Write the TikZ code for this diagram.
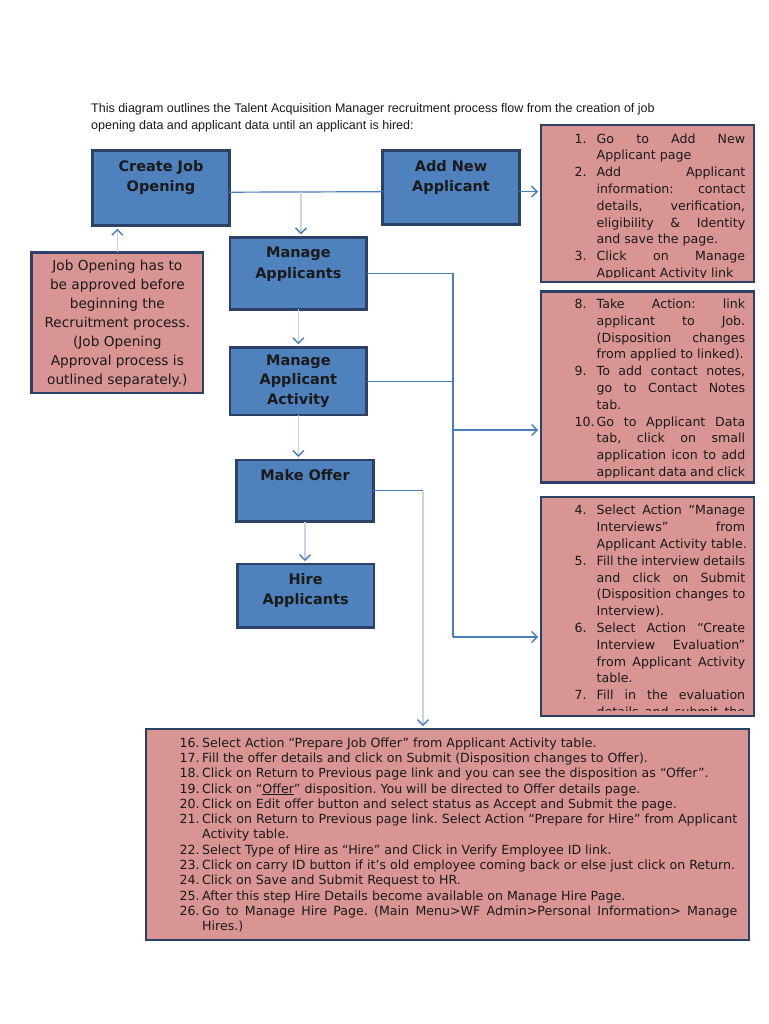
\documentclass[tikz,border=0pt]{standalone}
\usepackage{fontspec}
\setmainfont{DejaVu Sans}
\newfontfamily\capfont{Liberation Sans}
\usetikzlibrary{arrows.meta}
\frenchspacing
\definecolor{boxblue}{HTML}{4F81BD}
\definecolor{boxpink}{HTML}{D99594}
\definecolor{edgec}{HTML}{2B4168}
\definecolor{connc}{HTML}{4A7EBB}
\definecolor{faintc}{HTML}{C9D6E9}
\definecolor{txt}{HTML}{1A1A1A}
\def\NW{22pt}\def\TW{148.5pt}
\def\BNW{22.5pt}\def\BTW{535pt}
\newcommand\RJ[2]{\makebox[\NW][l]{#1}\makebox[\TW][s]{#2}}
\newcommand\RL[2]{\makebox[\NW][l]{#1}\makebox[\TW][l]{#2}}
\newcommand\BJ[2]{\makebox[\BNW][l]{#1}\makebox[\BTW][s]{#2}}
\newcommand\BL[2]{\makebox[\BNW][l]{#1}\makebox[\BTW][l]{#2}}
\tikzset{
  bluebox/.style={draw=edgec, line width=2.5pt, fill=boxblue, inner sep=0pt, outer sep=0pt, anchor=north west},
  pinkfill/.style={fill=boxpink, inner sep=0pt, outer sep=0pt, anchor=north west},
  notebox/.style={pinkfill, draw=edgec, line width=2.5pt},
  border/.style={draw=edgec, line width=2.5pt},
  blabel/.style={anchor=north, inner sep=0pt, align=center, text=txt, font=\bfseries\fontsize{14.5}{20.3}\selectfont},
  rtext/.style={anchor=north west, inner sep=0pt, align=left, text=txt, font=\fontsize{12.6}{16.8}\selectfont},
  btext/.style={anchor=north west, inner sep=0pt, align=left, text=txt, font=\fontsize{12.6}{15.3}\selectfont},
  conn/.style={draw=connc, line width=1.2pt},
  faintline/.style={draw=faintc, line width=1.2pt},
  arr/.style={-{Straight Barb[length=5.5pt,width=11pt,line width=1.4pt,color=connc]}, shorten >=3pt},
}
\begin{document}
\begin{tikzpicture}[x=1pt,y=-1pt]
\useasboundingbox[fill=white] (0,0) rectangle (768,1024);

% caption
\node[anchor=north west, inner sep=0pt, align=left, text=txt, font=\capfont\fontsize{12.5}{17}\selectfont] (cap) at (91,100)
  {\strut This diagram outlines the Talent Acquisition Manager recruitment process flow from the creation of job\\
   opening data and applicant data until an applicant is hired:};

% blue process boxes
\node[bluebox, minimum width=136.6pt, minimum height=75pt] (cjo) at (92.7,150.7) {};
\node[blabel] (cjol) at ([yshift=-6.3pt]cjo.north) {\strut Create Job\\Opening};
\node[bluebox, minimum width=136.6pt, minimum height=74pt] (ana) at (382.7,150.7) {};
\node[blabel] (anal) at ([yshift=-6.3pt]ana.north) {\strut Add New\\Applicant};
\node[bluebox, minimum width=136.7pt, minimum height=72pt] (ma) at (230,237.3) {};
\node[blabel] (mal) at ([yshift=-6pt]ma.north) {\strut Manage\\Applicants};
\node[bluebox, minimum width=136.7pt, minimum height=67.7pt] (maa) at (230,347.3) {};
\node[blabel, font=\bfseries\fontsize{14.5}{19.2}\selectfont] (maal) at ([yshift=-4.8pt]maa.north) {\strut Manage\\Applicant\\Activity};
\node[bluebox, minimum width=136.6pt, minimum height=61.7pt] (mo) at (236.7,460) {};
\node[blabel] (mol) at ([yshift=-6.3pt]mo.north) {\strut Make Offer};
\node[bluebox, minimum width=136.7pt, minimum height=63.3pt] (ha) at (237.3,564) {};
\node[blabel] (hal) at ([yshift=-6pt]ha.north) {\strut Hire\\Applicants};

% note box
\node[notebox, minimum width=171.3pt, minimum height=140.7pt] (note) at (31.7,252.3) {};
\node[anchor=north, inner sep=0pt, align=center, text=txt, font=\fontsize{13.7}{19}\selectfont] (notel) at ([yshift=-5pt]note.north)
  {\strut Job Opening has to\\be approved before\\beginning the\\Recruitment process.\\(Job Opening\\Approval process is\\outlined separately.)};

% right boxes
\node[pinkfill, minimum width=213pt, minimum height=157pt] (rb1) at (541,125) {};
\node[pinkfill, minimum width=213pt, minimum height=191pt] (rb2) at (541,291.5) {};
\node[pinkfill, minimum width=213pt, minimum height=219pt] (rb3) at (541,497) {};
\node[pinkfill, minimum width=603pt, minimum height=211pt] (bb) at (146,729) {};

\begin{scope}
\clip (rb1.north west) rectangle ([yshift=5pt]rb1.south east);
\node[rtext] (t1) at (574.5,131.2) {\strut\RJ{1.}{Go to Add New}\\
\RL{}{Applicant page}\\
\RJ{2.}{Add Applicant}\\
\RJ{}{information: contact}\\
\RJ{}{details, verification,}\\
\RJ{}{eligibility \& Identity}\\
\RL{}{and save the page.}\\
\RJ{3.}{Click on Manage}\\
\RL{}{Applicant Activity link}};
\end{scope}

\begin{scope}
\clip (rb2.north west) rectangle ([yshift=5pt]rb2.south east);
\node[rtext] (t2) at (574.5,296.5) {\strut\RJ{8.}{Take Action: link}\\
\RJ{}{applicant to Job.}\\
\RJ{}{(Disposition changes}\\
\RL{}{from applied to linked).}\\
\RJ{9.}{To add contact notes,}\\
\RJ{}{go to Contact Notes}\\
\RL{}{tab.}\\
\RJ{10.}{Go to Applicant Data}\\
\RJ{}{tab, click on small}\\
\RJ{}{application icon to add}\\
\RJ{}{applicant data and click}};
\end{scope}

\begin{scope}
\clip (rb3.north west) rectangle ([yshift=5.5pt]rb3.south east);
\node[rtext] (t3) at (574.5,502.9) {\strut\RJ{4.}{Select Action “Manage}\\
\RJ{}{Interviews” from}\\
\RL{}{Applicant Activity table.}\\
\RJ{5.}{Fill the interview details}\\
\RJ{}{and click on Submit}\\
\RJ{}{(Disposition changes to}\\
\RL{}{Interview).}\\
\RJ{6.}{Select Action “Create}\\
\RJ{}{Interview Evaluation”}\\
\RJ{}{from Applicant Activity}\\
\RL{}{table.}\\
\RJ{7.}{Fill in the evaluation}\\
\RJ{}{details and submit the}};
\end{scope}

\node[btext] (t4) at (179.5,736.2) {\strut\BL{16.}{Select Action “Prepare Job Offer” from Applicant Activity table.}\\
\BL{17.}{Fill the offer details and click on Submit (Disposition changes to Offer).}\\
\BL{18.}{Click on Return to Previous page link and you can see the disposition as “Offer”.}\\
\BL{19.}{Click on “\underline{Offer}” disposition. You will be directed to Offer details page.}\\
\BL{20.}{Click on Edit offer button and select status as Accept and Submit the page.}\\
\BJ{21.}{Click on Return to Previous page link. Select Action “Prepare for Hire” from Applicant}\\
\BL{}{Activity table.}\\
\BL{22.}{Select Type of Hire as “Hire” and Click in Verify Employee ID link.}\\
\BL{23.}{Click on carry ID button if it’s old employee coming back or else just click on Return.}\\
\BL{24.}{Click on Save and Submit Request to HR.}\\
\BL{25.}{After this step Hire Details become available on Manage Hire Page.}\\
\BJ{26.}{Go to Manage Hire Page. (Main Menu>WF Admin>Personal Information> Manage}\\
\BL{}{Hires.)}};

\draw[border] (rb1.north west) rectangle (rb1.south east);
\draw[border] (rb2.north west) rectangle (rb2.south east);
\draw[border] (rb3.north west) rectangle (rb3.south east);
\draw[border] (bb.north west) rectangle (bb.south east);

% connectors
\coordinate (j1) at (301,192);
\coordinate (p1) at ([yshift=-4pt]ana.east);
\coordinate (spb) at (453,637);
\coordinate (sp2) at (453,430);
\coordinate (oc) at (423,490);
\draw[conn] ([yshift=-4pt]cjo.east) -- ([yshift=-4pt]ana.west);
\draw[faintline, arr] (j1) -- (j1 |- ma.north);
\draw[conn, arr] (p1) -- (p1 -| rb1.west);
\draw[faintline, arr] (note.north) -- (note.north |- cjo.south);
\draw[faintline, arr] (ma.south) -- (maa.north);
\draw[faintline, arr] (maa.south) -- (maa.south |- mo.north);
\draw[faintline, arr] (mo.south) -- (mo.south |- ha.north);
\draw[conn] (ma.east) -| (spb);
\draw[conn] (maa.east) -- (maa.east -| spb);
\draw[conn, arr] (sp2) -- (sp2 -| rb2.west);
\draw[conn, arr] (spb) -- (spb -| rb3.west);
\draw[conn] (mo.east) -- (mo.east -| oc);
\draw[faintline, arr] (mo.east -| oc) -- (oc |- bb.north);
\end{tikzpicture}
\end{document}
